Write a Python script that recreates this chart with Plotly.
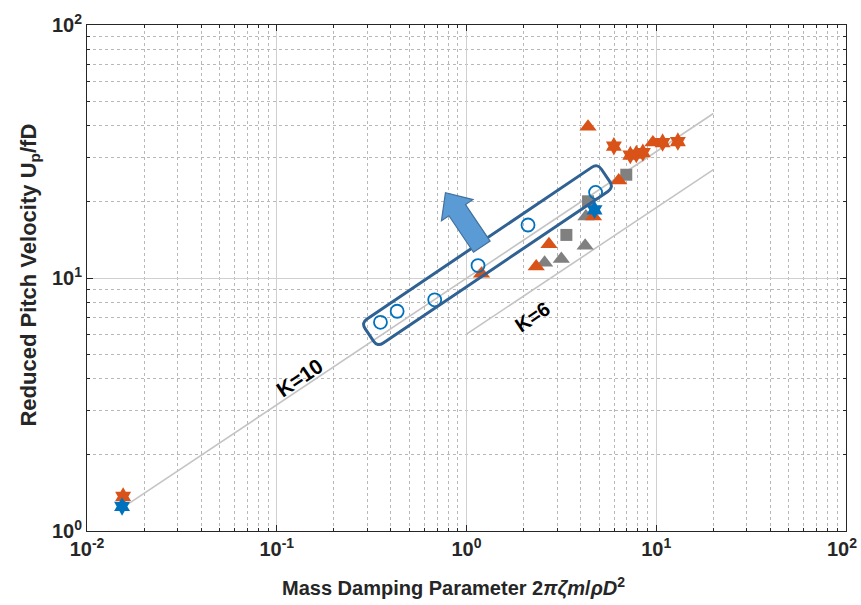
import math
import plotly.graph_objects as go

# ---------------- data ----------------
circ_x = [0.352, 0.431, 0.68, 1.15, 2.11, 4.79]
circ_y = [6.68, 7.39, 8.2, 11.2, 16.2, 21.8]

org_tri_x = [4.37, 9.6, 6.34, 4.67, 2.72, 2.33, 1.2]
org_tri_y = [39.6, 34.3, 24.3, 17.5, 13.6, 11.1, 10.4]

org_star_x = [0.0155, 5.98, 7.3, 7.85, 8.5, 10.8, 13.0]
org_star_y = [1.37, 33.2, 30.6, 30.9, 31.3, 34.3, 34.6]

gray_tri_x = [4.26, 4.22, 3.16, 2.58]
gray_tri_y = [17.5, 13.4, 11.9, 11.5]

gray_sq_x = [6.95, 4.37, 3.36]
gray_sq_y = [25.6, 20.1, 14.8]

blue_star_x = [0.0153, 4.73]
blue_star_y = [1.25, 18.6]

k10_x = [0.015, 20]
k10_y = [1.22, 44.7]
k6_x = [1, 20]
k6_y = [6.0, 26.8]

x_ticks = [0.01, 0.1, 1, 10]
x_ticktext = ["<b>10<sup>-2</sup></b>", "<b>10<sup>-1</sup></b>", "<b>10<sup>0</sup></b>",
              "<b>10<sup>1</sup></b>"]
x_last_tick_text = "<b>10<sup>2</sup></b>"
y_ticks = [1, 10, 100]
y_ticktext = ["<b>10<sup>0</sup></b>", "<b>10<sup>1</sup></b>", "<b>10<sup>2</sup></b>"]

x_minor = [m * 10 ** e for e in (-2, -1, 0, 1) for m in range(2, 10)] + [100]
y_minor = [m * 10 ** e for e in (0, 1) for m in range(2, 10)]

ORANGE = "#D95319"
BLUE = "#0072BD"
GRAY = "#808080"
LINE_GRAY = "#c4c4c4"
FONT = "Liberation Sans, Arial, sans-serif"

fig = go.Figure()

fig.add_trace(go.Scatter(x=k10_x, y=k10_y, mode="lines",
                         line=dict(color=LINE_GRAY, width=1.6), hoverinfo="skip"))
fig.add_trace(go.Scatter(x=k6_x, y=k6_y, mode="lines",
                         line=dict(color=LINE_GRAY, width=1.6), hoverinfo="skip"))

fig.add_trace(go.Scatter(x=gray_tri_x, y=gray_tri_y, mode="markers",
                         marker=dict(symbol="triangle-up", size=15, color=GRAY, line=dict(width=0))))
fig.add_trace(go.Scatter(x=gray_sq_x, y=gray_sq_y, mode="markers",
                         marker=dict(symbol="square", size=12, color=GRAY, line=dict(width=0))))
fig.add_trace(go.Scatter(x=org_tri_x, y=org_tri_y, mode="markers",
                         marker=dict(symbol="triangle-up", size=15, color=ORANGE, line=dict(width=0))))
fig.add_trace(go.Scatter(x=org_star_x, y=org_star_y, mode="markers",
                         marker=dict(symbol="hexagram", size=14, color=ORANGE, line=dict(width=0))))
fig.add_trace(go.Scatter(x=blue_star_x, y=blue_star_y, mode="markers",
                         marker=dict(symbol="hexagram", size=14, color=BLUE, line=dict(width=0))))
fig.add_trace(go.Scatter(x=circ_x, y=circ_y, mode="markers",
                         marker=dict(symbol="circle-open", size=13, color=BLUE, line=dict(width=1.8))))

# ---------------- decorations (pixel paths) ----------------
def rot(u, v, th):
    c, s = math.cos(th), math.sin(th)
    return (u * c - v * s, u * s + v * c)

def fmt(p):
    return f"{p[0]:.2f},{p[1]:.2f}"

L, W, r = 285, 29, 7
hl, hw = L / 2, W / 2
th = math.radians(34)
R = lambda u, v: fmt(rot(u, v, th))
rect_path = (
    f"M{R(-hl + r, -hw)} L{R(hl - r, -hw)} Q{R(hl, -hw)} {R(hl, -hw + r)} "
    f"L{R(hl, hw - r)} Q{R(hl, hw)} {R(hl - r, hw)} "
    f"L{R(-hl + r, hw)} Q{R(-hl, hw)} {R(-hl, hw - r)} "
    f"L{R(-hl, -hw + r)} Q{R(-hl, -hw)} {R(-hl + r, -hw)} Z"
)

tha = math.radians(124)
A = lambda u, v: fmt(rot(u, v, tha))
arrow_pts = [(0, -10), (44, -10), (44, -19), (65, 0), (44, 19), (44, 10), (0, 10)]
arrow_path = "M" + " L".join(A(u, v) for u, v in arrow_pts) + " Z"

fig.add_shape(type="path", xref="x", yref="y", xsizemode="pixel", ysizemode="pixel",
              xanchor=1.29, yanchor=12.31, path=rect_path,
              line=dict(color="#2F6193", width=3), fillcolor="rgba(0,0,0,0)")
fig.add_shape(type="path", xref="x", yref="y", xsizemode="pixel", ysizemode="pixel",
              xanchor=1.204, yanchor=13.3, path=arrow_path,
              line=dict(color="#41719C", width=1.2), fillcolor="#5B9BD5")

fig.add_annotation(x=math.log10(0.1320), y=math.log10(4.05), text="<b>K=10</b>",
                   showarrow=False, textangle=-34, font=dict(size=21, color="black", family=FONT))
fig.add_annotation(x=math.log10(2.22), y=math.log10(7.0), text="<b>K=6</b>",
                   showarrow=False, textangle=-34, font=dict(size=20, color="black", family=FONT))

# last x tick label (kept inside the page)
fig.add_annotation(xref="paper", yref="paper", x=1, y=0, xanchor="right", yanchor="top",
                   xshift=13, yshift=-2, text=x_last_tick_text, showarrow=False,
                   font=dict(size=20, color="#262626", family=FONT))

# axis titles
fig.add_annotation(xref="paper", yref="paper", x=0.2543, y=-0.138, xanchor="left", yanchor="bottom",
                   text="<b>Mass Damping Parameter 2<i>πζm</i>/<i>ρD</i><sup>2</sup></b>",
                   showarrow=False, font=dict(size=20, color="#262626", family=FONT))
fig.add_annotation(xref="paper", yref="paper", x=-0.075, y=0.505, xanchor="center", yanchor="middle",
                   textangle=-90,
                   text="<b>Reduced Pitch Velocity U<sub>p</sub>/fD</b>",
                   showarrow=False, font=dict(size=22, color="#262626", family=FONT))

def axis_cfg(minor_vals):
    return dict(
        type="log",
        showline=True, linecolor="#262626", linewidth=1, mirror="ticks",
        ticks="inside", ticklen=6, tickcolor="#262626",
        showgrid=True, gridcolor="#d0d0d0", gridwidth=1,
        zeroline=False,
        tickfont=dict(family=FONT, size=20, color="#262626"),
        minor=dict(tickvals=minor_vals, ticks="inside", ticklen=3, tickcolor="#262626",
                   showgrid=True, gridcolor="#b8b8b8", griddash="dot", gridwidth=1),
    )

fig.update_layout(
    width=861, height=605,
    margin=dict(l=87, r=15, t=25, b=74),
    paper_bgcolor="white", plot_bgcolor="white",
    showlegend=False,
    font=dict(family=FONT, color="#262626"),
    xaxis=dict(**axis_cfg(x_minor), range=[-2, 2], tickvals=x_ticks, ticktext=x_ticktext),
    yaxis=dict(**axis_cfg(y_minor), range=[0, 2], tickvals=y_ticks, ticktext=y_ticktext),
)

fig.write_html("out.html", config={"displayModeBar": False},
               post_script="document.body.style.margin='0';document.body.style.overflow='hidden';")
